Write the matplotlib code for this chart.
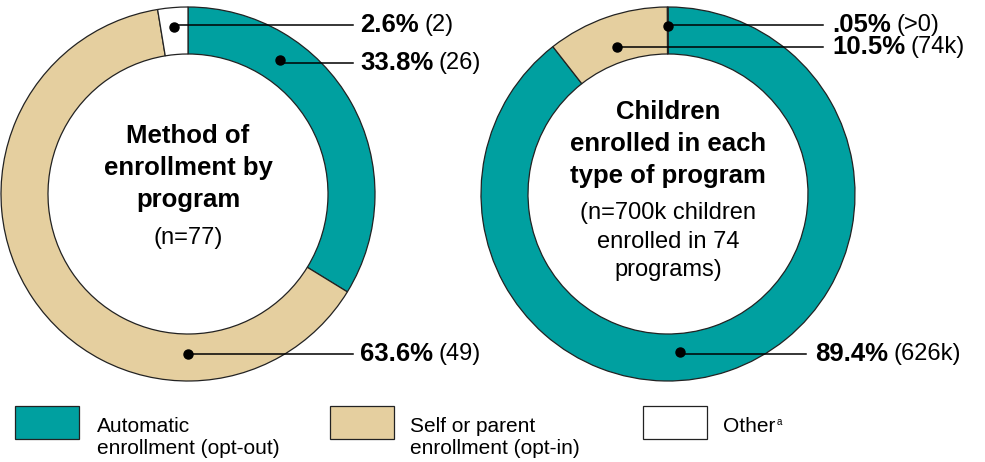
import numpy as np
import matplotlib.pyplot as plt

plt.rcParams['font.family'] = ['Liberation Sans', 'DejaVu Sans']

# data
left_values = [26, 49, 2]
left_pcts = ['33.8%', '63.6%', '2.6%']
left_counts = ['(26)', '(49)', '(2)']

right_values = [89.4, 10.5, 0.05]
right_pcts = ['89.4%', '10.5%', '.05%']
right_counts = ['(626k)', '(74k)', '(>0)']

colors = ['#00A0A0', '#E5CF9F', 'white']
legend_labels = ['Automatic\nenrollment (opt-out)', 'Self or parent\nenrollment (opt-in)', 'Other']

W, H = 985, 462
fig = plt.figure(figsize=(W / 100, H / 100), dpi=100)
ax = fig.add_axes([0, 0, 1, 1])


def Y(py):
    return H - py


R_OUT, R_IN = 187, 140

# left donut
cl = (188, Y(194))
ax.pie(left_values, colors=colors, startangle=90, counterclock=False,
       radius=R_OUT, center=cl,
       wedgeprops=dict(width=R_OUT - R_IN, edgecolor='#222222', linewidth=0.9))

# right donut
cr = (668, Y(194))
ax.pie(right_values, colors=colors, startangle=90, counterclock=False,
       radius=R_OUT, center=cr,
       wedgeprops=dict(width=R_OUT - R_IN, edgecolor='#222222', linewidth=0.9))

ax.set_xlim(0, W)
ax.set_ylim(0, H)
ax.axis('off')


def label(center, ang, r, ly, x_end, x_text, pct, cnt):
    a = np.radians(ang)
    dx = center[0] + r * np.sin(a)
    dy = center[1] + r * np.cos(a)
    ax.plot([dx, x_end], [Y(ly), Y(ly)], color='black', lw=1.1, zorder=5)
    ax.plot(dx, dy, 'o', color='black', markersize=6.5, zorder=6)
    t = ax.text(x_text, Y(ly), pct, fontsize=18.5, fontweight='bold',
                va='center', ha='left')
    ax.annotate(cnt, xy=(1, 0.5), xycoords=t, xytext=(4, 0),
                textcoords='offset points', fontsize=17, va='center', ha='left')


# angles clockwise from top
def mid_angle(vals, i):
    tot = sum(vals)
    start = sum(vals[:i]) / tot * 360
    return start + vals[i] / tot * 180


label(cl, 34.5, 162, 63, 353, 360, left_pcts[0], left_counts[0])
label(cl, 180, 160, 354, 353, 360, left_pcts[1], left_counts[1])
label(cl, mid_angle(left_values, 2), 168, 25, 353, 360, left_pcts[2], left_counts[2])

label(cr, 175.7, 158, 354, 806, 815, right_pcts[0], right_counts[0])
label(cr, mid_angle(right_values, 1), 156, 47, 823, 832, right_pcts[1], right_counts[1])
label(cr, 0, 168, 25, 823, 832, right_pcts[2], right_counts[2])

# center text
for i, s in enumerate(['Method of', 'enrollment by', 'program']):
    ax.text(188, Y(136 + 32 * i), s, fontsize=18.5, fontweight='bold',
            ha='center', va='center')
ax.text(188, Y(238), '(n=77)', fontsize=17, ha='center', va='center')

for i, s in enumerate(['Children', 'enrolled in each', 'type of program']):
    ax.text(668, Y(112 + 32 * i), s, fontsize=18.5, fontweight='bold',
            ha='center', va='center')
for i, s in enumerate(['(n=700k children', 'enrolled in 74', 'programs)']):
    ax.text(668, Y(213 + 28.5 * i), s, fontsize=17, ha='center', va='center')

# legend
box_x = [15, 330, 643]
text_x = [97, 410, 723]
for bx, tx, c, lab in zip(box_x, text_x, colors, legend_labels):
    ax.add_patch(plt.Rectangle((bx, Y(439)), 64, 33, facecolor=c,
                               edgecolor='#222222', linewidth=0.9))
    lines = lab.split('\n')
    for j, s in enumerate(lines):
        t = ax.text(tx, Y(426 + 22 * j), s, fontsize=15, ha='left', va='center')
    if lab == 'Other':
        ax.annotate('a', xy=(1, 0.72), xycoords=t, xytext=(1, 0),
                    textcoords='offset points', fontsize=7, va='center', ha='left')

fig.savefig('out.png', dpi=100)
